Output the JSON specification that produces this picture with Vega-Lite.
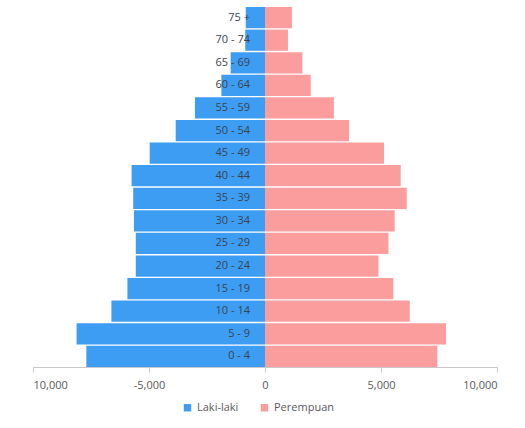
{
  "$schema": "https://vega.github.io/schema/vega-lite/v6.json",
  "autosize": {"type": "none"},
  "width": 464,
  "height": 360,
  "padding": {"left": 33, "top": 7, "right": 28, "bottom": 61},
  "background": "white",
  "config": {"view": {"stroke": null}, "font": "Open Sans"},
  "data": {"values": [
    {"age": "75 +", "sex": "Laki-laki", "value": -830},
    {"age": "70 - 74", "sex": "Laki-laki", "value": -850},
    {"age": "65 - 69", "sex": "Laki-laki", "value": -1480},
    {"age": "60 - 64", "sex": "Laki-laki", "value": -1880},
    {"age": "55 - 59", "sex": "Laki-laki", "value": -3020},
    {"age": "50 - 54", "sex": "Laki-laki", "value": -3850},
    {"age": "45 - 49", "sex": "Laki-laki", "value": -4970},
    {"age": "40 - 44", "sex": "Laki-laki", "value": -5750},
    {"age": "35 - 39", "sex": "Laki-laki", "value": -5680},
    {"age": "30 - 34", "sex": "Laki-laki", "value": -5650},
    {"age": "25 - 29", "sex": "Laki-laki", "value": -5570},
    {"age": "20 - 24", "sex": "Laki-laki", "value": -5570},
    {"age": "15 - 19", "sex": "Laki-laki", "value": -5930},
    {"age": "10 - 14", "sex": "Laki-laki", "value": -6620},
    {"age": "5 - 9", "sex": "Laki-laki", "value": -8120},
    {"age": "0 - 4", "sex": "Laki-laki", "value": -7700},
    {"age": "75 +", "sex": "Perempuan", "value": 1160},
    {"age": "70 - 74", "sex": "Perempuan", "value": 990},
    {"age": "65 - 69", "sex": "Perempuan", "value": 1610},
    {"age": "60 - 64", "sex": "Perempuan", "value": 1970},
    {"age": "55 - 59", "sex": "Perempuan", "value": 2970},
    {"age": "50 - 54", "sex": "Perempuan", "value": 3620},
    {"age": "45 - 49", "sex": "Perempuan", "value": 5130},
    {"age": "40 - 44", "sex": "Perempuan", "value": 5850},
    {"age": "35 - 39", "sex": "Perempuan", "value": 6110},
    {"age": "30 - 34", "sex": "Perempuan", "value": 5590},
    {"age": "25 - 29", "sex": "Perempuan", "value": 5320},
    {"age": "20 - 24", "sex": "Perempuan", "value": 4890},
    {"age": "15 - 19", "sex": "Perempuan", "value": 5530},
    {"age": "10 - 14", "sex": "Perempuan", "value": 6240},
    {"age": "5 - 9", "sex": "Perempuan", "value": 7800},
    {"age": "0 - 4", "sex": "Perempuan", "value": 7430}
  ]},
  "encoding": {
    "y": {
      "field": "age", "type": "nominal",
      "sort": ["75 +", "70 - 74", "65 - 69", "60 - 64", "55 - 59", "50 - 54", "45 - 49", "40 - 44", "35 - 39", "30 - 34", "25 - 29", "20 - 24", "15 - 19", "10 - 14", "5 - 9", "0 - 4"],
      "scale": {"paddingInner": 0.06, "paddingOuter": 0.0},
      "axis": null
    }
  },
  "layer": [
    {
      "mark": {"type": "bar"},
      "encoding": {
        "x": {
          "field": "value", "type": "quantitative", "stack": null,
          "scale": {"domain": [-10000, 10000], "nice": false},
          "axis": {
            "title": null, "values": [-10000, -5000, 0, 5000, 10000],
            "grid": false, "domainColor": "#c8c8c8", "tickColor": "#c8c8c8",
            "tickSize": 5, "labelColor": "#595959", "labelFontSize": 11,
            "labelPadding": 7,
            "labelExpr": "datum.value == -10000 ? '10,000' : replace(format(datum.value, ','), '−', '-')"
          }
        },
        "color": {
          "field": "sex", "type": "nominal",
          "scale": {"domain": ["Laki-laki", "Perempuan"], "range": ["#3d9df3", "#fc9d9d"]},
          "legend": {
            "title": null, "orient": "none", "direction": "horizontal",
            "legendX": 149, "legendY": 395, "symbolType": "square",
            "symbolSize": 55, "labelFontSize": 11, "labelColor": "#595959",
            "columnPadding": 20, "symbolStrokeWidth": 0
          }
        }
      }
    },
    {
      "transform": [{"filter": "datum.sex == 'Laki-laki'"}],
      "mark": {"type": "text", "align": "right", "dx": -15, "fontSize": 11, "color": "#3a4350"},
      "encoding": {
        "x": {"datum": 0, "type": "quantitative"},
        "text": {"field": "age"}
      }
    }
  ]
}
